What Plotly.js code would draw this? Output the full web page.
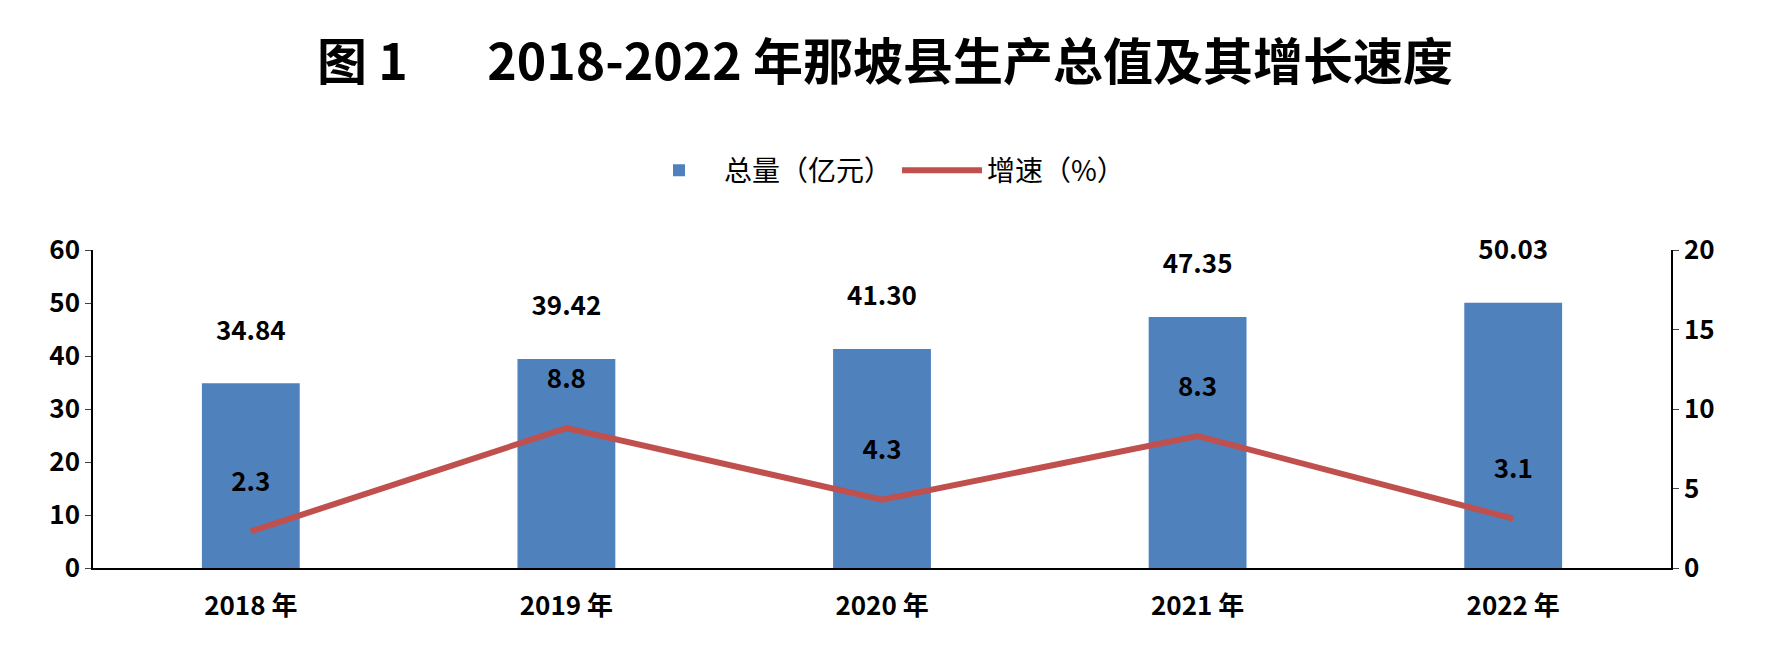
<!DOCTYPE html>
<html><head><meta charset="utf-8">
<script src="https://cdn.plot.ly/plotly-3.0.1.min.js"></script>
<style>body{margin:0}#c{width:1770px;height:660px}</style></head>
<body><div id="c"></div>
<script>
const years = ['2018 年','2019 年','2020 年','2021 年','2022 年'];
const totals = [34.84, 39.42, 41.30, 47.35, 50.03];
const growth = [2.3, 8.8, 4.3, 8.3, 3.1];
const F = '"Noto Sans CJK SC", "DejaVu Sans", sans-serif';
const data = [
 {type:'bar', x:years, y:totals, name:'总量（亿元）', marker:{color:'#4F81BD'}, width:0.31,
  text:totals.map(v=>v.toFixed(2)+'<br> '), textposition:'outside', cliponaxis:false,
  textfont:{size:26,color:'#000',family:F,weight:'bold'}},
 {type:'scatter', mode:'lines+text', x:years, y:growth, yaxis:'y2', name:'增速（%）',
  line:{color:'#C0504D',width:6}, text:growth.map(v=>v.toFixed(1)+'<br> '), textposition:'top center',
  textfont:{size:26,color:'#000',family:F,weight:'bold'}}
];
const layout = {
 width:1770, height:660, margin:{l:93,r:99,t:250,b:92},
 font:{family:F,color:'#000',size:22,weight:'bold'},
 paper_bgcolor:'#fff', plot_bgcolor:'#fff', showlegend:true,
 title:{text:'图 1\u00a0\u00a0\u00a0\u00a0\u00a0\u00a0 2018-2022 年那坡县生产总值及其增长速度', x:0.5, xanchor:'center', y:0.905, yanchor:'middle',
  font:{size:50,family:F,weight:'bold',color:'#000'}},
 legend:{orientation:'h', x:0.5, xanchor:'center', y:1.25, yanchor:'middle', itemwidth:80, font:{size:28,weight:'normal'}},
 bargap:0.69,
 xaxis:{showline:true, linecolor:'#000', linewidth:1.5, tickfont:{size:26,weight:'bold'}, ticks:'', ticklabelstandoff:14},
 yaxis:{range:[0,60], dtick:10, showgrid:false, zeroline:false, showline:true, linecolor:'#000', linewidth:1.5, ticks:'outside', ticklen:6, tickfont:{size:26,weight:'bold'}},
 yaxis2:{range:[0,20], dtick:5, overlaying:'y', side:'right', showgrid:false, zeroline:false, showline:true, linecolor:'#000', linewidth:1.5, ticks:'outside', ticklen:6, tickfont:{size:26,weight:'bold'}}
};
Plotly.newPlot('c', data, layout, {displayModeBar:false});
</script></body></html>
